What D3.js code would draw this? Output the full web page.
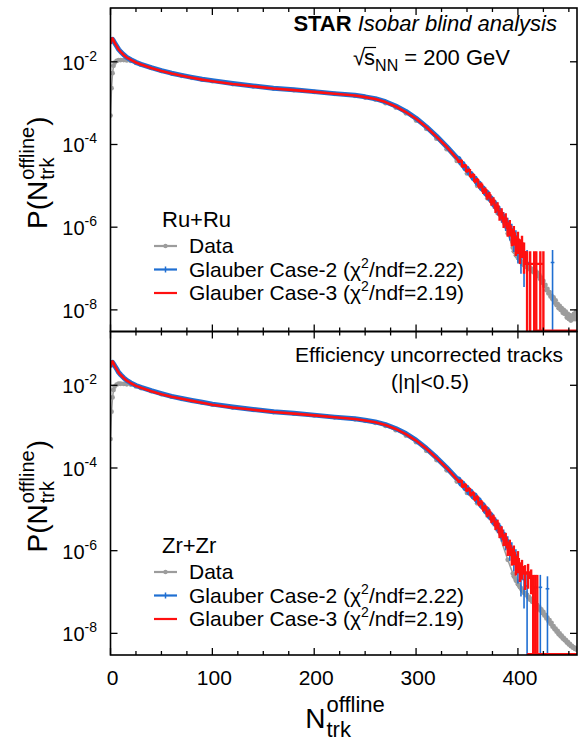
<!DOCTYPE html>
<html><head><meta charset="utf-8">
<script src="https://cdn.jsdelivr.net/npm/d3@7"></script>
<style>
body{margin:0;background:#fff}
svg{display:block}
text{font-family:"Liberation Sans",Arial,Helvetica,sans-serif;fill:#000}
</style>
</head><body>
<svg id="c" width="580" height="742"></svg>
<script>
// ---------------- DATA ----------------
const xTickValues = [0, 100, 200, 300, 400];
const yTickExps = [-2, -4, -6, -8];

// smooth part (both panels share N)
const smoothN = [0,1,2,3,4,6,8,10,13,16,20,25,30,40,50,60,70,80,90,100,120,140,160,180,200,220,240,250,260,270,280,290,300,310,320,330,340];

// Ru+Ru
const ruCase2 = [0.028,0.034,0.035,0.032,0.029,0.024,0.020,0.0175,0.0148,0.0128,0.0112,0.0097,0.0087,0.0072,0.0061,0.0053,0.0047,0.0042,0.0038,0.0035,0.0030,0.0026,0.0023,0.0021,0.0019,0.0017,0.00155,0.00142,0.00128,0.00108,0.00085,0.00063,0.00043,0.00027,0.00016,0.00009,0.000048];
const ruCase3 = [0.027,0.035,0.037,0.033,0.029,0.024,0.0198,0.0173,0.0146,0.0127,0.0111,0.0096,0.0086,0.0071,0.0060,0.0052,0.0046,0.0041,0.0037,0.0034,0.0029,0.00255,0.00226,0.00206,0.00187,0.00168,0.00153,0.0014,0.00126,0.00106,0.00083,0.00061,0.00042,0.000265,0.000155,0.000088,0.000046];
const ruData = [0.0005,0.0023,0.0053,0.008,0.0095,0.0105,0.011,0.011,0.011,0.0108,0.0105,0.0094,0.0085,0.0071,0.006,0.0052,0.0046,0.0041,0.0037,0.0034,0.0029,0.00255,0.00226,0.00206,0.00187,0.00168,0.00151,0.00137,0.00122,0.001,0.00078,0.00057,0.00038,0.00024,0.000138,0.000077,0.00004];

const ruC2TailN = [342,344,346,348,350,352,354,356,358,360,362,364,366,368,370,372,374,376,378,380,382,384,386,388,390,392,394,396,398,400,403,406,409,434];
const ruC2Tail = [4.57e-5,3.55e-5,3.47e-5,2.63e-5,2.69e-5,2.04e-5,2.0e-5,1.51e-5,1.55e-5,1.15e-5,1.17e-5,8.7e-6,8.9e-6,6.6e-6,6.9e-6,4.9e-6,5.0e-6,3.5e-6,3.7e-6,2.5e-6,2.6e-6,1.7e-6,1.8e-6,1.15e-6,1.26e-6,7.9e-7,8.3e-7,5.0e-7,5.6e-7,3.3e-7,2.5e-7,1.8e-7,1.4e-7,1.4e-7];
const ruC2RelErr = [0.08,0.08,0.09,0.09,0.1,0.1,0.11,0.11,0.12,0.12,0.13,0.13,0.15,0.15,0.17,0.17,0.19,0.19,0.22,0.22,0.25,0.25,0.3,0.3,0.35,0.4,0.45,0.5,0.5,0.6,0.7,0.8,1.0,1.0];

const ruC3TailN = [342,344,346,348,350,352,354,356,358,360,362,364,366,368,370,372,374,376,378,380,382,384,386,388,390,392,394,396,398,400,402,404,406,409,412,416,418,422,425];
const ruC3Tail = [3.9e-5,4.0e-5,3.0e-5,3.1e-5,2.3e-5,2.4e-5,1.74e-5,1.82e-5,1.32e-5,1.38e-5,1.0e-5,1.05e-5,7.6e-6,7.9e-6,5.6e-6,6.0e-6,4.1e-6,4.4e-6,2.95e-6,3.2e-6,2.0e-6,2.2e-6,1.4e-6,1.6e-6,9.5e-7,1.05e-6,6.3e-7,7.1e-7,4.0e-7,5.0e-7,3.2e-7,4.0e-7,2.5e-7,1.3e-7,1.3e-7,1.3e-7,1.3e-7,1.3e-7,1.3e-7];
const ruC3RelErr = [0.08,0.08,0.09,0.09,0.1,0.1,0.11,0.11,0.12,0.12,0.14,0.14,0.16,0.16,0.18,0.18,0.2,0.2,0.25,0.25,0.28,0.3,0.32,0.35,0.38,0.42,0.45,0.5,0.5,0.55,0.6,0.55,0.7,1,1,1,1,1,1];

const ruDataTailN = [350,360,370,380,390,395,396,397,398,399,400,401,402,403,404,405,406,407,408,409,410,411,412,413,414,415,416,417,418,419,420,421,422,423,424,425,426,427,428,429,430,431,432,433,434,435,436,437,438,439,440,441,442,443,444,445,446,447,448,449,450,451,452,453,454,455,456,457,458];
const ruDataTail = [2.0e-5,1.0e-5,5.0e-6,2.2e-6,7e-7,3.2e-7,2.6e-7,2.5e-7,2.1e-7,2.0e-7,1.8e-7,1.7e-7,1.5e-7,1.5e-7,1.3e-7,1.35e-7,1.2e-7,1.25e-7,1.1e-7,1.15e-7,1.0e-7,1.1e-7,9.5e-8,1.0e-7,8.5e-8,9.5e-8,8e-8,9e-8,7.5e-8,8e-8,6.5e-8,7e-8,5.5e-8,6e-8,4.5e-8,5e-8,3.8e-8,4e-8,3e-8,3.2e-8,2.5e-8,2.7e-8,2.1e-8,2.2e-8,1.8e-8,2.0e-8,1.5e-8,1.7e-8,1.3e-8,1.4e-8,1.1e-8,1.25e-8,1.0e-8,1.1e-8,8.5e-9,1.0e-8,8e-9,9e-9,6.5e-9,8e-9,6e-9,7.5e-9,5.5e-9,7e-9,6e-9,8e-9,6e-9,9e-9,7e-9];

// Zr+Zr
const zrCase2 = [0.028,0.035,0.036,0.033,0.030,0.025,0.0205,0.018,0.0152,0.0131,0.0114,0.0099,0.0089,0.0074,0.0063,0.0054,0.0048,0.0043,0.0039,0.0035,0.0030,0.0026,0.0023,0.0021,0.0019,0.0017,0.00155,0.00143,0.0013,0.00112,0.0009,0.00068,0.00047,0.0003,0.00018,0.000103,0.000056];
const zrCase3 = [0.027,0.036,0.038,0.034,0.030,0.0245,0.0202,0.0177,0.015,0.0129,0.0112,0.0097,0.0087,0.0072,0.0061,0.0053,0.0047,0.0042,0.0038,0.0034,0.0029,0.00255,0.00226,0.00206,0.00187,0.00168,0.00153,0.00141,0.00128,0.0011,0.00088,0.00066,0.00046,0.000295,0.000175,0.0001,0.000054];
const zrData = [0.0005,0.0023,0.0051,0.0077,0.0093,0.0104,0.0109,0.0109,0.0108,0.0106,0.0104,0.0094,0.0086,0.0072,0.0061,0.0053,0.0047,0.0042,0.0038,0.0034,0.0029,0.00255,0.00226,0.00206,0.00187,0.00168,0.00151,0.00138,0.00124,0.00104,0.00082,0.00061,0.00042,0.00026,0.000155,0.000088,0.000047];

const zrC2TailN = [342,344,346,348,350,352,354,356,358,360,362,364,366,368,370,372,374,376,378,380,382,384,386,388,390,392,394,396,398,400,403,406,409,415,422,429];
const zrC2Tail = [5.4e-5,4.1e-5,4.3e-5,3.2e-5,3.4e-5,2.5e-5,2.7e-5,2.0e-5,2.2e-5,1.58e-5,1.7e-5,1.2e-5,1.29e-5,8.9e-6,1.0e-5,6.6e-6,7.2e-6,4.8e-6,5.2e-6,3.4e-6,3.7e-6,2.2e-6,2.5e-6,1.45e-6,1.66e-6,9.5e-7,1.1e-6,6.3e-7,7.2e-7,4.0e-7,2.6e-7,2.0e-7,1.4e-7,1.2e-7,1.3e-7,1.2e-7];
const zrC2RelErr = [0.08,0.08,0.09,0.09,0.1,0.1,0.11,0.11,0.12,0.12,0.13,0.13,0.15,0.15,0.17,0.17,0.19,0.19,0.22,0.22,0.25,0.25,0.3,0.3,0.35,0.4,0.45,0.5,0.5,0.6,0.7,0.8,1.0,0.8,1.0,1.0];

const zrC3TailN = [342,344,346,348,350,352,354,356,358,360,362,364,366,368,370,372,374,376,378,380,382,384,386,388,390,392,394,396,398,400,402,404,407,410,413,415,417,419];
const zrC3Tail = [4.7e-5,4.9e-5,3.6e-5,3.9e-5,2.9e-5,3.1e-5,2.3e-5,2.45e-5,1.78e-5,1.95e-5,1.38e-5,1.48e-5,1.05e-5,1.12e-5,7.9e-6,8.5e-6,5.8e-6,6.2e-6,4.2e-6,4.5e-6,2.8e-6,3.0e-6,1.9e-6,2.0e-6,1.2e-6,1.3e-6,7.9e-7,8.9e-7,5.0e-7,6.3e-7,3.5e-7,4.0e-7,2.8e-7,3.0e-7,2.2e-7,1.3e-7,1.3e-7,1.3e-7];
const zrC3RelErr = [0.08,0.08,0.09,0.09,0.1,0.1,0.11,0.11,0.12,0.12,0.14,0.14,0.16,0.16,0.18,0.18,0.2,0.2,0.25,0.25,0.28,0.3,0.32,0.35,0.38,0.42,0.45,0.5,0.5,0.55,0.5,0.5,0.6,0.6,0.6,1,1,1];

const zrDataTailN = ruDataTailN;
const zrDataTail = [2.5e-5,1.4e-5,7.1e-6,3.2e-6,6e-7,2.8e-7,2.4e-7,2.2e-7,1.9e-7,1.8e-7,1.55e-7,1.45e-7,1.3e-7,1.25e-7,1.1e-7,1.05e-7,9.5e-8,9.5e-8,8.5e-8,8.5e-8,7.5e-8,7.5e-8,6.5e-8,6.8e-8,5.8e-8,6e-8,5.2e-8,5.5e-8,4.6e-8,4.8e-8,4.1e-8,4.3e-8,3.6e-8,3.8e-8,3.1e-8,3.3e-8,2.7e-8,2.8e-8,2.3e-8,2.4e-8,2.0e-8,2.1e-8,1.7e-8,1.8e-8,1.45e-8,1.5e-8,1.25e-8,1.3e-8,1.1e-8,1.15e-8,9.5e-9,1.0e-8,8.5e-9,8.8e-9,7.5e-9,7.8e-9,6.8e-9,7e-9,6e-9,6.2e-9,5.4e-9,5.6e-9,4.9e-9,5e-9,4.5e-9,4.6e-9,4.2e-9,4.3e-9,4e-9];

// ---------------- DRAW ----------------
const BLUE = "#1f6fd2", RED = "#ff1010", GRAY = "#9c9c9c";
const svg = d3.select("#c");
const L = 110.5, R = 577, T = 8, M = 331.5, B = 655;
const x = d3.scaleLinear().domain([0, 458]).range([L, R]);
const yDomain = [3e-9, 0.2];

function zip(ns, vs) { return ns.map((n, i) => ({n, v: vs[i]})); }

// rich text helper: parts placed sequentially, optional stacking
function rich(parent, px, py, parts, anchor) {
  const g = parent.append("g");
  let cx = 0, prevStart = 0, prevEnd = 0;
  const pos = [];
  parts.forEach(p => {
    const sx = p.stack ? prevStart : cx + (p.gap || 0);
    const t = g.append("text").attr("x", sx).attr("y", p.dy || 0)
      .attr("font-size", p.size).text(p.t);
    if (p.weight) t.attr("font-weight", p.weight);
    if (p.style) t.attr("font-style", p.style);
    const w = t.node().getComputedTextLength();
    const end = sx + w;
    pos.push([sx, end]);
    cx = p.stack ? Math.max(prevEnd, end) : end;
    prevStart = sx; prevEnd = p.stack ? Math.max(prevEnd, end) : end;
  });
  const off = anchor === "middle" ? -cx / 2 : anchor === "end" ? -cx : 0;
  g.attr("transform", `translate(${px + off},${py})`);
  return {g, width: cx, left: px + off, pos};
}

function drawPanel(cfg, idx) {
  const top = cfg.top, bot = cfg.bot;
  const y = d3.scaleLog().domain(yDomain).range([bot, top]);
  const clipId = "clip" + idx;
  svg.append("clipPath").attr("id", clipId).append("rect")
    .attr("x", L).attr("y", top).attr("width", R - L).attr("height", bot - top);
  const g = svg.append("g").attr("clip-path", `url(#${clipId})`);
  const yc = v => (v > 0 ? y(v) : bot + 5);

  // Data (gray)
  const dataPts = zip(smoothN, cfg.data).concat(zip(cfg.dataTailN, cfg.dataTail));
  g.append("path").datum(dataPts)
    .attr("d", d3.line().x(d => x(d.n)).y(d => y(d.v)))
    .attr("fill", "none").attr("stroke", GRAY).attr("stroke-width", 1.5);
  g.selectAll(null).data(dataPts).join("circle")
    .attr("cx", d => x(d.n)).attr("cy", d => y(d.v)).attr("r", 2.4).attr("fill", GRAY);

  // Case-2 (blue)
  const c2Tail = cfg.c2TailN.map((n, i) => ({n, v: cfg.c2Tail[i], e: cfg.c2Tail[i] * cfg.c2Rel[i]}));
  const c2Line = zip(smoothN, cfg.c2).concat(c2Tail.filter(d => d.n <= 400));
  g.append("path").datum(c2Line)
    .attr("d", d3.line().x(d => x(d.n)).y(d => y(d.v)))
    .attr("fill", "none").attr("stroke", BLUE).attr("stroke-width", 5).attr("stroke-linejoin", "round");
  c2Tail.forEach(d => {
    g.append("line").attr("x1", x(d.n)).attr("x2", x(d.n))
      .attr("y1", yc(d.v - d.e)).attr("y2", y(d.v + d.e))
      .attr("stroke", BLUE).attr("stroke-width", 1.6);
    g.append("line").attr("x1", x(d.n - 1.8)).attr("x2", x(d.n + 1.8))
      .attr("y1", y(d.v)).attr("y2", y(d.v))
      .attr("stroke", BLUE).attr("stroke-width", 1.6);
  });

  // Case-3 (red)
  const c3Tail = cfg.c3TailN.map((n, i) => ({n, v: cfg.c3Tail[i], e: cfg.c3Tail[i] * cfg.c3Rel[i]}));
  g.append("path").datum(zip(smoothN, cfg.c3).concat(c3Tail.slice(0, 1)))
    .attr("d", d3.line().x(d => x(d.n)).y(d => y(d.v)))
    .attr("fill", "none").attr("stroke", RED).attr("stroke-width", 2.6).attr("stroke-linejoin", "round");
  g.append("path").datum(c3Tail)
    .attr("d", d3.line().curve(d3.curveStep).x(d => x(d.n)).y(d => y(d.v)))
    .attr("fill", "none").attr("stroke", RED).attr("stroke-width", 2.2);
  c3Tail.forEach(d => {
    g.append("line").attr("x1", x(d.n)).attr("x2", x(d.n))
      .attr("y1", yc(d.v - d.e)).attr("y2", y(d.v + d.e))
      .attr("stroke", RED).attr("stroke-width", 2.4);
  });
  const lastRed = cfg.c3TailN[cfg.c3TailN.length - 1];
  g.append("line").attr("x1", x(lastRed - 10)).attr("x2", R)
    .attr("y1", bot - 1).attr("y2", bot - 1).attr("stroke", RED).attr("stroke-width", 2);

  // Frame + ticks
  svg.append("rect").attr("x", L).attr("y", top).attr("width", R - L).attr("height", bot - top)
    .attr("fill", "none").attr("stroke", "#000").attr("stroke-width", 1.6);
  const ticksG = svg.append("g").attr("stroke", "#000").attr("stroke-width", 1.3);
  d3.range(0, 459, 25).forEach(n => {
    const len = n % 100 === 0 ? 7 : 4;
    ticksG.append("line").attr("x1", x(n)).attr("x2", x(n)).attr("y1", bot).attr("y2", bot - len);
    ticksG.append("line").attr("x1", x(n)).attr("x2", x(n)).attr("y1", top).attr("y2", top + len);
  });
  yTickExps.forEach(e => {
    const yy = y(Math.pow(10, e));
    ticksG.append("line").attr("x1", L).attr("x2", L + 7).attr("y1", yy).attr("y2", yy);
    ticksG.append("line").attr("x1", R).attr("x2", R - 7).attr("y1", yy).attr("y2", yy);
    rich(svg, 97, yy + 8, [{t: "10", size: 20}, {t: String(e), size: 14, dy: -9}], "end");
  });

  // Y title
  const yt = svg.append("g").attr("transform", `translate(47,${(top + bot) / 2 + 3}) rotate(-90)`);
  rich(yt, 0, 0, [
    {t: "P(N", size: 28},
    {t: "offline", size: 20, dy: -13, gap: 1},
    {t: "trk", size: 20, dy: 7, stack: true},
    {t: ")", size: 28, gap: 1}
  ], "middle");

  // Legend
  const lg = cfg.legendY;
  svg.append("text").attr("x", 162).attr("y", lg).attr("font-size", 22).text(cfg.label);
  const entries = [
    {c: GRAY, name: "Data"},
    {c: BLUE, name: "Glauber Case-2 (", chi: "2.22"},
    {c: RED, name: "Glauber Case-3 (", chi: "2.19"}
  ];
  entries.forEach((en, i) => {
    const by = lg + 26 + i * 23.5;
    const sy = by - 7;
    svg.append("line").attr("x1", 154).attr("x2", 177).attr("y1", sy).attr("y2", sy)
      .attr("stroke", en.c).attr("stroke-width", 2.2);
    if (i === 0) svg.append("circle").attr("cx", 165.5).attr("cy", sy).attr("r", 2.2).attr("fill", GRAY);
    if (i === 1) svg.append("line").attr("x1", 165.5).attr("x2", 165.5).attr("y1", sy - 3).attr("y2", sy + 3)
      .attr("stroke", BLUE).attr("stroke-width", 1.5);
    if (en.chi) {
      rich(svg, 189, by, [
        {t: en.name, size: 21},
        {t: "χ", size: 21, gap: 0},
        {t: "2", size: 14, dy: -9},
        {t: "/ndf=" + en.chi + ")", size: 21}
      ], "start");
    } else {
      svg.append("text").attr("x", 189).attr("y", by).attr("font-size", 21).text(en.name);
    }
  });
}

drawPanel({top: T, bot: M, c2: ruCase2, c3: ruCase3, data: ruData,
  c2TailN: ruC2TailN, c2Tail: ruC2Tail, c2Rel: ruC2RelErr,
  c3TailN: ruC3TailN, c3Tail: ruC3Tail, c3Rel: ruC3RelErr,
  dataTailN: ruDataTailN, dataTail: ruDataTail, label: "Ru+Ru", legendY: 227}, 0);
drawPanel({top: M, bot: B, c2: zrCase2, c3: zrCase3, data: zrData,
  c2TailN: zrC2TailN, c2Tail: zrC2Tail, c2Rel: zrC2RelErr,
  c3TailN: zrC3TailN, c3Tail: zrC3Tail, c3Rel: zrC3RelErr,
  dataTailN: zrDataTailN, dataTail: zrDataTail, label: "Zr+Zr", legendY: 553}, 1);

// X tick labels
xTickValues.forEach(v => {
  svg.append("text").attr("x", x(v) + 2).attr("y", 685).attr("text-anchor", "middle")
    .attr("font-size", 21).text(v);
});
// X title
rich(svg, 345, 728, [
  {t: "N", size: 28},
  {t: "offline", size: 22, dy: -16, gap: 1},
  {t: "trk", size: 22, dy: 9, stack: true}
], "middle");

// Header
rich(svg, 557, 31, [
  {t: "STAR", size: 22, weight: "bold"},
  {t: "Isobar blind analysis", size: 22, style: "italic", gap: 6}
], "end");
const rt = rich(svg, 353, 65, [
  {t: "√", size: 22},
  {t: "s", size: 22, gap: -1},
  {t: "NN", size: 16, dy: 6},
  {t: "= 200 GeV", size: 22, gap: 6}
], "start");
// radical overline over "s"
svg.append("line")
  .attr("x1", rt.left + rt.pos[0][1] - 1).attr("x2", rt.left + rt.pos[1][1] + 1)
  .attr("y1", 65 - 17.5).attr("y2", 65 - 17.5)
  .attr("stroke", "#000").attr("stroke-width", 1.2);

rich(svg, 563, 362, [{t: "Efficiency uncorrected tracks", size: 21}], "end");
rich(svg, 430, 389, [{t: "(|η|<0.5)", size: 21}], "middle");
</script>
</body></html>
